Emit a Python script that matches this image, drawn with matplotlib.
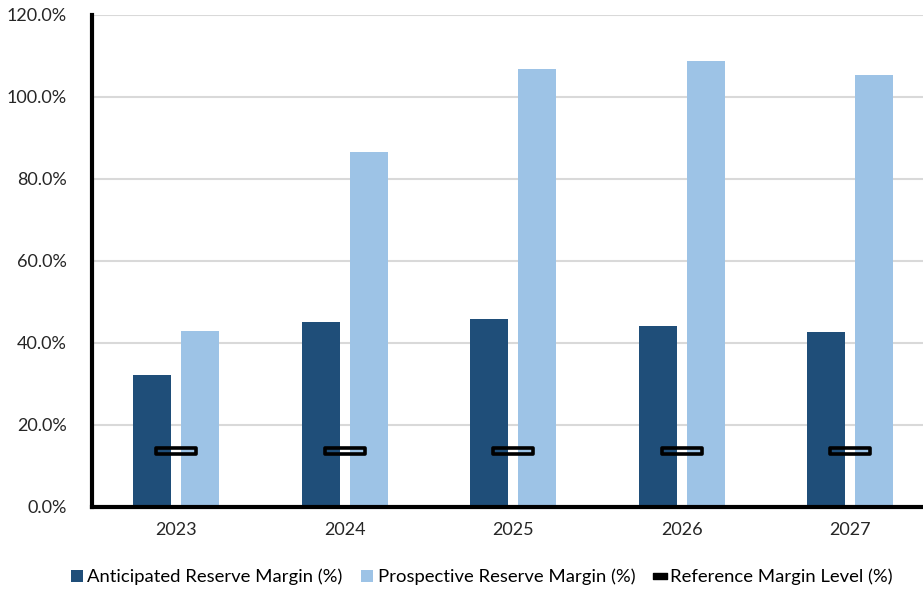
import matplotlib
matplotlib.use("Agg")
import matplotlib.pyplot as plt
import numpy as np
from matplotlib.path import Path
from matplotlib.lines import Line2D
from matplotlib.patches import Patch

years = ["2023", "2024", "2025", "2026", "2027"]
anticipated = [32.2, 45.1, 45.9, 44.1, 42.7]
prospective = [42.9, 86.6, 106.8, 108.8, 105.4]
reference = [13.7, 13.7, 13.7, 13.7, 13.7]
ytick_vals = [0, 20, 40, 60, 80, 100, 120]

plt.rcParams['font.family'] = ['Lato', 'DejaVu Sans']

dark = "#1F4E79"
light = "#9DC3E6"

fig = plt.figure(figsize=(9.23, 5.90), dpi=100)
# plot area runs slightly past the right edge of the figure
ax = fig.add_axes([0.0997, 0.1407, 0.9128, 0.8339])

x = np.arange(len(years))
w = 0.2255
gap = 0.059
ax.bar(x - (w + gap) / 2, anticipated, width=w, color=dark, zorder=2)
ax.bar(x + (w + gap) / 2, prospective, width=w, color=light, zorder=2)

# flat outlined rectangle marker for the reference level
rect = Path([(-1, -0.17), (1, -0.17), (1, 0.17), (-1, 0.17), (-1, -0.17)],
            [Path.MOVETO, Path.LINETO, Path.LINETO, Path.LINETO, Path.CLOSEPOLY])
ax.plot(x, reference, linestyle="none", marker=rect, markersize=29,
        markerfacecolor="none", markeredgecolor="black", markeredgewidth=2.6, zorder=3)

ax.set_xlim(-0.5, len(years) - 0.5)
ax.set_ylim(0, 120)
ax.set_yticks(ytick_vals)
ax.set_yticklabels([f"{v:.1f}%" for v in ytick_vals])
ax.set_xticks(x)
ax.set_xticklabels(years)
ax.tick_params(axis="both", length=0, labelsize=13, colors="#262626")
ax.tick_params(axis="y", pad=18)
ax.tick_params(axis="x", pad=11)

ax.grid(axis="y", color="#D9D9D9", linewidth=1.5, zorder=0)
ax.set_axisbelow(True)
for s in ["top", "right"]:
    ax.spines[s].set_visible(False)
ax.spines["left"].set_linewidth(3)
ax.spines["bottom"].set_linewidth(3)
ax.spines["left"].set_color("black")
ax.spines["bottom"].set_color("black")

legend_rect = Path([(-1, -0.45), (1, -0.45), (1, 0.45), (-1, 0.45), (-1, -0.45)],
                   [Path.MOVETO, Path.LINETO, Path.LINETO, Path.LINETO, Path.CLOSEPOLY])
handles = [
    Patch(facecolor=dark, label="Anticipated Reserve Margin (%)"),
    Patch(facecolor=light, label="Prospective Reserve Margin (%)"),
    Line2D([], [], linestyle="none", marker=legend_rect, markersize=10,
           markerfacecolor="black", markeredgecolor="black",
           label="Reference Margin Level (%)"),
]
fig.legend(handles=handles, loc="center", bbox_to_anchor=(0.522, 0.022),
           ncol=3, frameon=False, fontsize=13.3, handlelength=0.65,
           handleheight=0.65, handletextpad=0.25, columnspacing=1.0)

fig.savefig("out.png", dpi=100)
